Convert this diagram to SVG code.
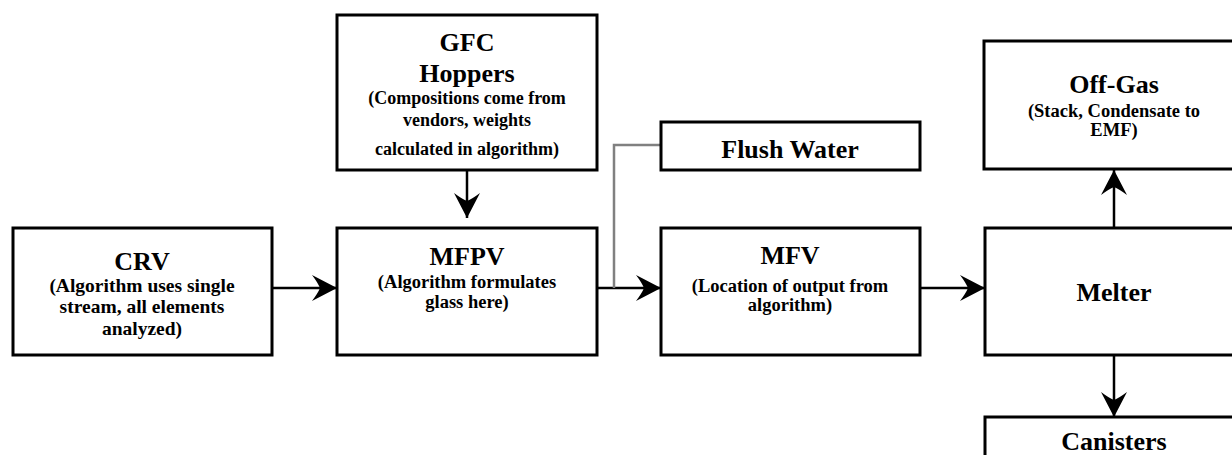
<svg xmlns="http://www.w3.org/2000/svg" width="1232" height="455" viewBox="0 0 1232 455">
<style>
.box{fill:#fff;stroke:#000;stroke-width:3}
.t{font-family:"Liberation Serif","Times New Roman",serif;font-weight:bold;font-size:26px;text-anchor:middle;fill:#000}
.s{font-family:"Liberation Serif","Times New Roman",serif;font-weight:bold;font-size:18.5px;text-anchor:middle;fill:#000}
.c{fill:none;stroke:#000;stroke-width:2.5}
.g{fill:none;stroke:#808080;stroke-width:2.5}
</style>
<defs>
<marker id="ah" markerUnits="userSpaceOnUse" markerWidth="30" markerHeight="30" viewBox="-27 -15 30 30" refX="0" refY="0" orient="auto">
<path d="M0,0 L-25,-13 Q-19,-5 -17,0 Q-19,5 -25,13 Z" fill="#000"/>
</marker>
</defs>
<rect x="0" y="0" width="1232" height="455" fill="#fff"/>
<g id="connectors">
<line class="c" x1="272" y1="288" x2="337" y2="288" marker-end="url(#ah)"/>
<line class="c" x1="467" y1="170" x2="467" y2="218" marker-end="url(#ah)"/>
<line class="c" x1="597" y1="288" x2="661" y2="288" marker-end="url(#ah)"/>
<polyline class="g" points="661,145 614,145 614,288"/>
<line class="c" x1="920" y1="288" x2="985" y2="288" marker-end="url(#ah)"/>
<line class="c" x1="1114" y1="228" x2="1114" y2="170" marker-end="url(#ah)"/>
<line class="c" x1="1114" y1="355" x2="1114" y2="417" marker-end="url(#ah)"/>
</g>
<g id="crv">
<rect class="box" x="13" y="228" width="259" height="127"/>
<text class="t" x="142" y="270">CRV</text>
<text class="s" x="142" y="292" style="font-size:19.5px">(Algorithm uses single</text>
<text class="s" x="142" y="313" style="font-size:19.5px">stream, all elements</text>
<text class="s" x="142" y="335" style="font-size:19.5px">analyzed)</text>
</g>
<g id="gfc">
<rect class="box" x="337" y="15" width="260" height="155"/>
<text class="t" x="467" y="51">GFC</text>
<text class="t" x="467" y="82">Hoppers</text>
<text class="s" x="467" y="104" style="font-size:18px">(Compositions come from</text>
<text class="s" x="467" y="126" style="font-size:18px">vendors, weights</text>
<text class="s" x="467" y="155" style="font-size:18px">calculated in algorithm)</text>
</g>
<g id="mfpv">
<rect class="box" x="337" y="228" width="260" height="127"/>
<text class="t" x="467" y="265">MFPV</text>
<text class="s" x="467" y="288">(Algorithm formulates</text>
<text class="s" x="467" y="308">glass here)</text>
</g>
<g id="flush">
<rect class="box" x="661" y="122" width="259" height="48"/>
<text class="t" x="790" y="158">Flush Water</text>
</g>
<g id="mfv">
<rect class="box" x="661" y="228" width="259" height="127"/>
<text class="t" x="790" y="264">MFV</text>
<text class="s" x="790" y="292">(Location of output from</text>
<text class="s" x="790" y="311">algorithm)</text>
</g>
<g id="offgas">
<rect class="box" x="984" y="41" width="260" height="128"/>
<text class="t" x="1114" y="93">Off-Gas</text>
<text class="s" x="1114" y="117">(Stack, Condensate to</text>
<text class="s" x="1114" y="136">EMF)</text>
</g>
<g id="melter">
<rect class="box" x="985" y="228" width="260" height="127"/>
<text class="t" x="1114" y="301">Melter</text>
</g>
<g id="canisters">
<rect class="box" x="985" y="417" width="260" height="60"/>
<text class="t" x="1114" y="450">Canisters</text>
</g>
</svg>
